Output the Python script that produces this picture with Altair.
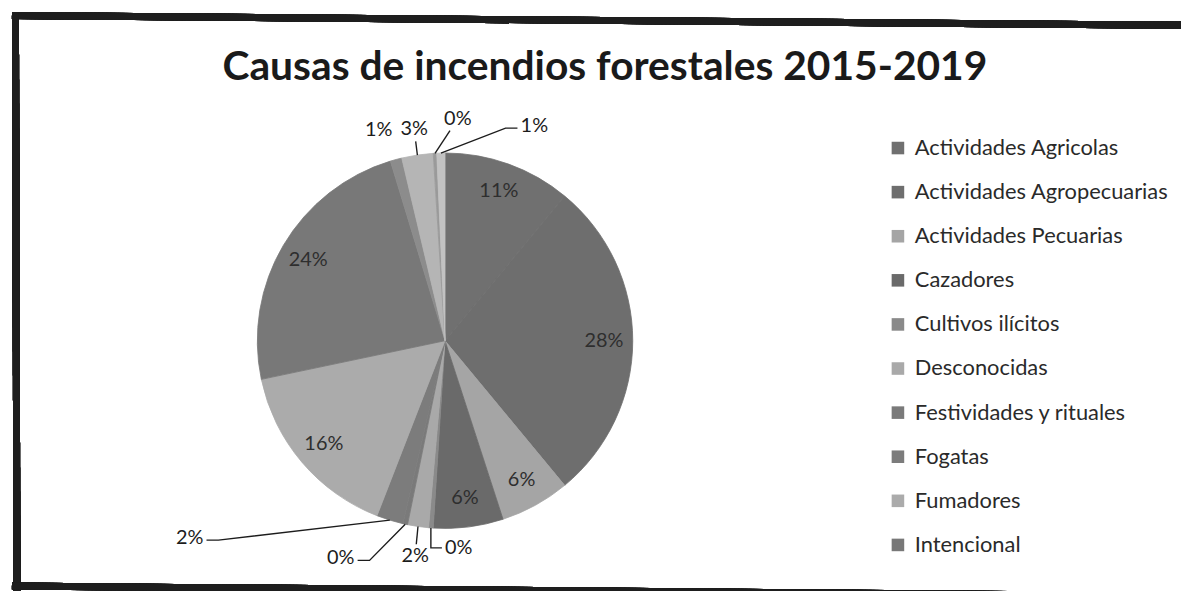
import altair as alt
import numpy as np
import pandas as pd

# ---------------- data ----------------
causes = [
    "Actividades Agricolas",
    "Actividades Agropecuarias",
    "Actividades Pecuarias",
    "Cazadores",
    "Cultivos ilícitos",
    "Desconocidas",
    "Festividades y rituales",
    "Fogatas",
    "Fumadores",
    "Intencional",
    "Otras",
    "Quema de basuras",
    "Rayos",
    "Vandalismo",
]
values = [11, 28, 6, 6, 0.4, 1.8, 0.4, 2.3, 15.8, 23.6, 1.0, 2.7, 0.3, 0.7]
legend_shown = causes[:10]

# ---------------- style / layout ----------------
grays = ["#707070", "#6e6e6e", "#a5a5a5", "#6a6a6a", "#8a8a8a", "#a9a9a9",
         "#7a7a7a", "#7c7c7c", "#ababab", "#787878", "#8c8c8c", "#b5b5b5",
         "#9a9a9a", "#c2c2c2"]
FONT = "Lato"
CX, CY, R = 440, 333, 189          # pie centre / radius (chart px)
R_IN = 160                         # radius of inside labels
# outside label placement (polar: angle deg clockwise from 12h, radius px)
out_angle = {4: 176.2, 5: 187.9, 6: 205.6, 7: 232.3, 10: 342.5, 11: 351.7, 12: 3.3, 13: 22.6}
out_radius = {4: 209, 5: 219, 6: 243, 7: 325, 10: 222, 11: 215, 12: 224, 13: 234}
leader_kind = {4: "L", 5: "s", 6: "stub", 7: "stub", 11: "s", 12: "s", 13: "stub"}
HW, HH = 14, 9                     # half size of a label box

# ---------------- derived tables ----------------
total = float(sum(values))
pct = [v / total * 100 for v in values]
cum = np.cumsum([0] + pct)
mid = [(cum[i] + cum[i + 1]) / 2 * 3.6 for i in range(len(values))]


def polar(a_deg, r):
    a = np.radians(a_deg)
    return CX + r * np.sin(a), CY - r * np.cos(a)


df = pd.DataFrame({"idx": range(len(causes)), "cause": causes, "value": values})

lab_rows, line_rows = [], []
for i, p in enumerate(pct):
    text = f"{int(round(p))}%"
    if i in out_angle:
        lx, ly = polar(out_angle[i], out_radius[i])
        lab_rows.append({"x": lx, "y": ly, "label": text, "tc": "#1c1c1c"})
        if i in leader_kind:
            p0 = polar(mid[i], R)
            kind = leader_kind[i]
            if kind == "L":
                e = (lx - HW - 3, ly)
                pts = [p0, (p0[0], ly), e]
            elif kind == "stub":
                side = 1 if p0[0] > lx else -1
                e = (lx + side * (HW + 3), ly + 2)
                pts = [p0, (e[0] + side * 12, e[1]), e]
            else:
                dx, dy = p0[0] - lx, p0[1] - ly
                t = min((HW + 3) / max(abs(dx), 1e-6), (HH + 3) / max(abs(dy), 1e-6))
                pts = [p0, (lx + t * dx, ly + t * dy)]
            for k, (px, py) in enumerate(pts):
                line_rows.append({"idx": i, "k": k, "x": px, "y": py})
    else:
        lx, ly = polar(mid[i], R_IN)
        lab_rows.append({"x": lx, "y": ly, "label": text, "tc": "#2e2e2e"})

lab_df = pd.DataFrame(lab_rows)
line_df = pd.DataFrame(line_rows)

# ---------------- chart ----------------
cscale = alt.Scale(domain=causes, range=grays)
pie = alt.Chart(df).mark_arc(radius=R, strokeWidth=0.8).encode(
    theta=alt.Theta("value:Q", stack=True),
    order=alt.Order("idx:Q"),
    color=alt.Color(
        "cause:N",
        scale=cscale,
        legend=alt.Legend(
            values=legend_shown, title=None, orient="none",
            legendX=885, legendY=128, padding=0,
            symbolType="square", symbolSize=160, symbolStrokeWidth=0,
            labelFont=FONT, labelFontSize=22, labelColor="#2a2a2a",
            labelOffset=6, rowPadding=22.4, labelLimit=400,
        ),
    ),
    stroke=alt.Stroke("cause:N", scale=cscale, legend=None),
    x=alt.value(CX),
    y=alt.value(CY),
)

labels = alt.Chart(lab_df).mark_text(font=FONT, fontSize=20).encode(
    x=alt.X("x:Q", scale=None, axis=None),
    y=alt.Y("y:Q", scale=None, axis=None),
    text="label:N",
    color=alt.Color("tc:N", scale=None),
)

leaders = alt.Chart(line_df).mark_line(color="#1c1c1c", strokeWidth=1.4).encode(
    x=alt.X("x:Q", scale=None, axis=None),
    y=alt.Y("y:Q", scale=None, axis=None),
    detail="idx:N",
    order="k:Q",
)

title = alt.Chart(pd.DataFrame({"t": ["Causas de incendios forestales 2015-2019"]})).mark_text(
    font=FONT, fontSize=41, fontWeight="bold", color="#1a1a1a", baseline="alphabetic"
).encode(text="t:N", x=alt.value(601), y=alt.value(70))

bd = dict(color="#1e1e1e", strokeWidth=7)
b_top = alt.Chart(df).mark_rule(**bd).encode(x=alt.value(4), x2=alt.value(1185), y=alt.value(5.5), y2=alt.value(15.5))
b_left = alt.Chart(df).mark_rule(**bd).encode(x=alt.value(7.5), x2=alt.value(9), y=alt.value(2), y2=alt.value(585))
b_bot = alt.Chart(df).mark_rule(**bd).encode(x=alt.value(4), x2=alt.value(1185), y=alt.value(580), y2=alt.value(590))

chart = alt.layer(pie, leaders, labels, title, b_top, b_left, b_bot).properties(
    width=1181, height=583, background="white", padding=0,
    autosize=alt.AutoSizeParams(type="none"),
).configure_view(stroke=None)

chart.save("out.html", embed_options={"renderer": "svg", "actions": False})
